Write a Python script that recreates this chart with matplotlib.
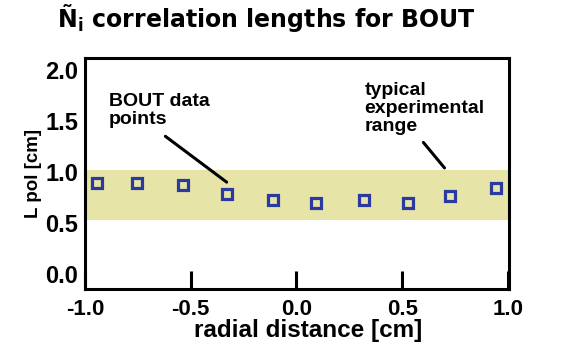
import matplotlib
matplotlib.use("Agg")
import matplotlib.pyplot as plt

# ---- data ----
radial_cm = [-0.944, -0.752, -0.537, -0.327, -0.112, 0.093, 0.318, 0.528, 0.724, 0.944]
lpol_cm = [0.887, 0.887, 0.877, 0.788, 0.729, 0.700, 0.729, 0.700, 0.768, 0.847]
exp_range = [0.53, 1.02]
xticks = [-1.0, -0.5, 0.0, 0.5, 1.0]
yticks = [0.0, 0.5, 1.0, 1.5, 2.0]

band_color = "#e6e4a6"
marker_color = "#2a3aa0"

plt.rcParams["mathtext.default"] = "regular"

fig = plt.figure(figsize=(5.62, 3.49), dpi=100)
ax = fig.add_axes([85/562, 1-289/349, (509-85)/562, (289-58)/349])

ax.axhspan(exp_range[0], exp_range[1], color=band_color, lw=0, zorder=1)
ax.plot(radial_cm, lpol_cm, ls="none", marker="s", ms=7.2, mfc="none",
        mec=marker_color, mew=2.3, zorder=3)

ax.set_xlim(-0.972, 1.005)
ax.set_ylim(-0.148, 2.118)
ax.set_xticks(xticks)
ax.set_xticklabels([f"{v:.1f}" for v in xticks], fontfamily="Liberation Sans",
                   fontweight="bold", fontsize=16)
ax.set_yticks(yticks)
ax.set_yticklabels([f"{v:.1f}" for v in yticks], fontfamily="Liberation Sans",
                   fontweight="bold", fontsize=17)
ax.tick_params(axis="x", direction="in", length=13, width=2.2, pad=7)
ax.tick_params(axis="y", length=0, pad=5)
for s in ax.spines.values():
    s.set_linewidth(2.2)

ax.set_xlabel("radial distance [cm]", fontfamily="Liberation Sans",
              fontweight="bold", fontsize=17.5)
ax.xaxis.set_label_coords(0.526, -0.13)
fig.text(33/562, 1-173/349, "L pol [cm]", rotation=90, ha="center", va="center",
         fontfamily="Liberation Sans", fontweight="bold", fontsize=13.5)

fig.text(266/562, 1-18/349, r"Ñ$_\mathregular{i}$ correlation lengths for BOUT",
         ha="center", va="center", fontfamily="DejaVu Sans", fontweight="bold",
         fontsize=17)

ax.text(-0.888, 1.77, "BOUT data\npoints", fontfamily="Liberation Sans",
        fontweight="bold", fontsize=14, ha="left", va="top", linespacing=1.05)
ax.annotate("", xy=(-0.33, 0.90), xytext=(-0.62, 1.35),
            arrowprops=dict(arrowstyle="-", lw=2.2, color="black",
                            shrinkA=0, shrinkB=0), zorder=4)
ax.annotate("", xy=(0.70, 1.04), xytext=(0.60, 1.29),
            arrowprops=dict(arrowstyle="-", lw=2.2, color="black",
                            shrinkA=0, shrinkB=0), zorder=4)
ax.text(0.322, 1.88, "typical\nexperimental\nrange", fontfamily="Liberation Sans",
        fontweight="bold", fontsize=14, ha="left", va="top", linespacing=1.05)

fig.savefig("out.png", dpi=100)
